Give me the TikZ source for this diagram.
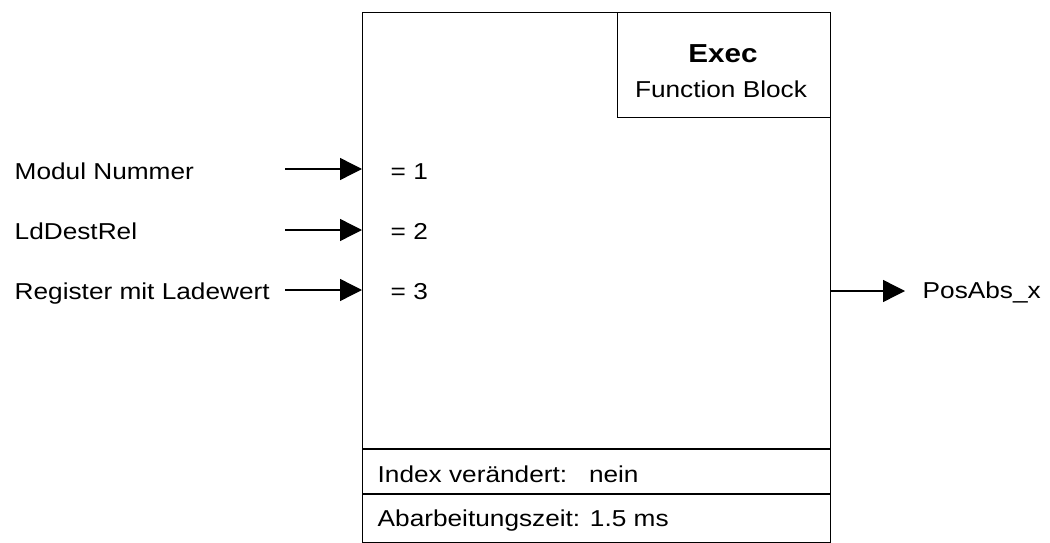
\documentclass[tikz,border=0pt]{standalone}
\usepackage{fontspec}
\setmainfont{Liberation Sans}[FakeStretch=1.14]
\usetikzlibrary{positioning,arrows.meta}
\newcommand{\fbsize}{\fontsize{23}{27}\selectfont}

\begin{document}
\begin{tikzpicture}[x=1pt,y=-1pt,line width=1.4pt,
                    >={Triangle[length=22pt,width=22pt]},
                    font=\fbsize, inner sep=0pt]
  \tikzstyle{fbbox}=[draw, anchor=north west]
  \tikzstyle{lbl}=[anchor=base west]

  \useasboundingbox (0,0) rectangle (1050,543);

  % the function block
  \node[fbbox, minimum width=468pt, minimum height=530pt] (FB)   at (362,12) {};
  \node[fbbox, minimum width=213pt, minimum height=105pt] (Head) at (617,12) {};
  \node[anchor=base, font=\fontsize{26}{29}\selectfont\bfseries] (Name) at (723,63) {Exec};
  \node[anchor=base] (Kind) at (721,97) {Function Block};
  \draw (362,449) -- (830,449);
  \draw (362,494) -- (830,494);
  \node[lbl] (Idx) at (377,482) {Index verändert:\ \ \ nein};
  \node[lbl] (Zeit) at (377,526) {Abarbeitungszeit: 1.5 ms};

  % inputs
  \node[lbl] (In1) at (14,179) {Modul Nummer};
  \node[lbl] (In2) at (14,239) {LdDestRel};
  \node[lbl] (In3) at (14,299) {Register mit Ladewert};
  \coordinate (S1) at (285,169);
  \coordinate (S2) at (285,230);
  \coordinate (S3) at (285,290);
  \node[lbl] (V1) at (390,179) {= 1};
  \node[lbl] (V2) at (390,239) {= 2};
  \node[lbl] (V3) at (390,299) {= 3};
  \path[->] (S1) edge (S1 -| FB.west)
            (S2) edge (S2 -| FB.west)
            (S3) edge (S3 -| FB.west);

  % output
  \coordinate (E1) at (905,291);
  \node[lbl] (Out) at (922,298) {PosAbs\_x};
  \draw[->] (E1 -| FB.east) -- (E1);
\end{tikzpicture}
\end{document}
